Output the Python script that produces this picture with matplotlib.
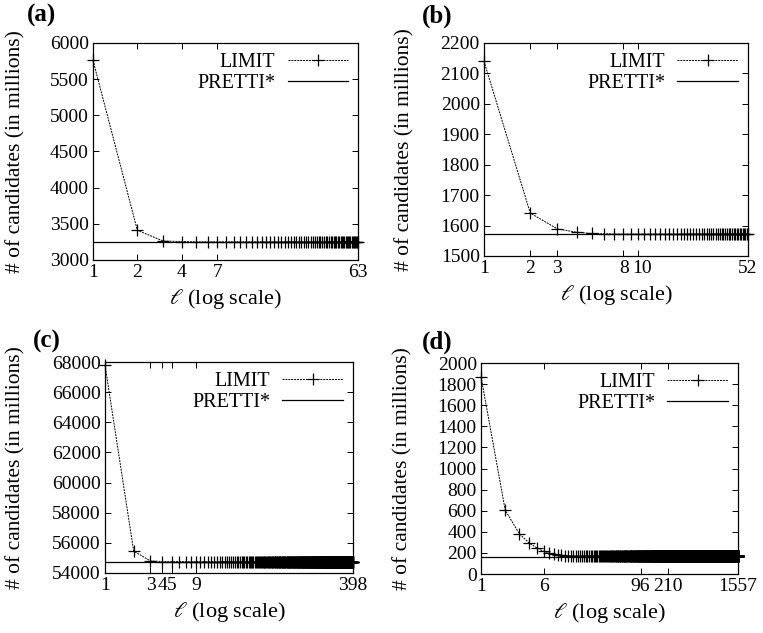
import numpy as np
from matplotlib import pyplot as plt
from matplotlib import transforms

plt.rcParams['font.family'] = ['Liberation Serif', 'DejaVu Serif']
plt.rcParams['mathtext.fontset'] = 'stix'

a_head = [5760, 3410, 3262, 3255]
a_tail = 3250
a_max = 63
a_pretti = 3250

b_head = [2140, 1641, 1589, 1578, 1574, 1573]
b_tail = 1572
b_max = 52
b_pretti = 1572

c_head = [67800, 55450, 54800, 54760]
c_tail = 54750
c_max = 398
c_pretti = 54750

d_head = [1870, 605, 380, 292, 245, 215, 200, 190, 183, 178, 175, 173, 172]
d_tail = 170
d_max = 1557
d_pretti = 165

panels = [
    ('(a)', a_head, a_tail, a_max, a_pretti, (3000, 6000), np.arange(3000, 6001, 500), [1, 2, 4, 7, 63], ['1', '2', '4', '7', '63']),
    ('(b)', b_head, b_tail, b_max, b_pretti, (1500, 2200), np.arange(1500, 2201, 100), [1, 2, 3, 8, 10, 52], ['1', '2', '3', '8', '10', '52']),
    ('(c)', c_head, c_tail, c_max, c_pretti, (54000, 68000), np.arange(54000, 68001, 2000), [1, 3, 4, 5, 9, 398], ['1', '3', '4', '5', '9', '398']),
    ('(d)', d_head, d_tail, d_max, d_pretti, (0, 2000), np.arange(0, 2001, 200), [1, 6, 96, 210, 1557], ['1', '6', '96', '210', '1557']),
]

# axes boxes in figure fractions [left, bottom, width, height]
boxes = [
    [0.1219, 0.5893, 0.3473, 0.3428],
    [0.6343, 0.5956, 0.3460, 0.3365],
    [0.1376, 0.0948, 0.3250, 0.3333],
    [0.6304, 0.0932, 0.3368, 0.3333],
]
label_pos = [(0.035, 0.975), (0.553, 0.975), (0.043, 0.46), (0.553, 0.46)]
ylabel_x = [-0.255, -0.265, -0.32, -0.265]

fig = plt.figure(figsize=(7.63, 6.33), dpi=100)

for (tag, head, tail, lmax, pretti, ylim, yt, xt, xtl), box, lp, yx in zip(panels, boxes, label_pos, ylabel_x):
    ax = fig.add_axes(box)
    x = np.arange(1, lmax + 1)
    y = head + [tail] * (lmax - len(head))
    ax.plot(x, y, color='black', linestyle=(0, (2, 1)), linewidth=0.7,
            marker='+', markersize=9, markeredgewidth=0.9, label='LIMIT', clip_on=False)
    ax.axhline(pretti, color='black', linewidth=0.9, label='PRETTI*')
    ax.set_xscale('log')
    ax.set_xlim(1, lmax)
    ax.set_ylim(*ylim)
    ax.set_xticks(xt)
    ax.set_xticklabels(xtl)
    ax.minorticks_off()
    ax.set_yticks(yt)
    ax.tick_params(direction='in', top=True, right=True, labelsize=14, length=4, width=0.7, pad=3)
    for s in ax.spines.values():
        s.set_linewidth(0.9)
    # crowded tick labels: nudge apart a little, as in the original
    for lab in ax.get_xticklabels():
        if tag == '(b)' and lab.get_text() == '10':
            lab.set_transform(lab.get_transform() + transforms.ScaledTranslation(4 / 100, 0, fig.dpi_scale_trans))
        if tag == '(b)' and lab.get_text() == '8':
            lab.set_transform(lab.get_transform() + transforms.ScaledTranslation(1 / 100, 0, fig.dpi_scale_trans))
    ax.set_xlabel(r'$\ell$ (log scale)', fontsize=16, labelpad=4)
    ax.set_ylabel('# of candidates (in millions)', fontsize=15.5)
    ax.yaxis.set_label_coords(yx, 0.5)
    ax.legend(loc='upper right', frameon=False, markerfirst=False, fontsize=14.5,
              handlelength=3.0, borderaxespad=0.1, labelspacing=0.1, handletextpad=0.6)
    fig.text(lp[0], lp[1], tag, fontsize=18, fontweight='bold', va='center', ha='left')

fig.savefig('out.png', dpi=100)
